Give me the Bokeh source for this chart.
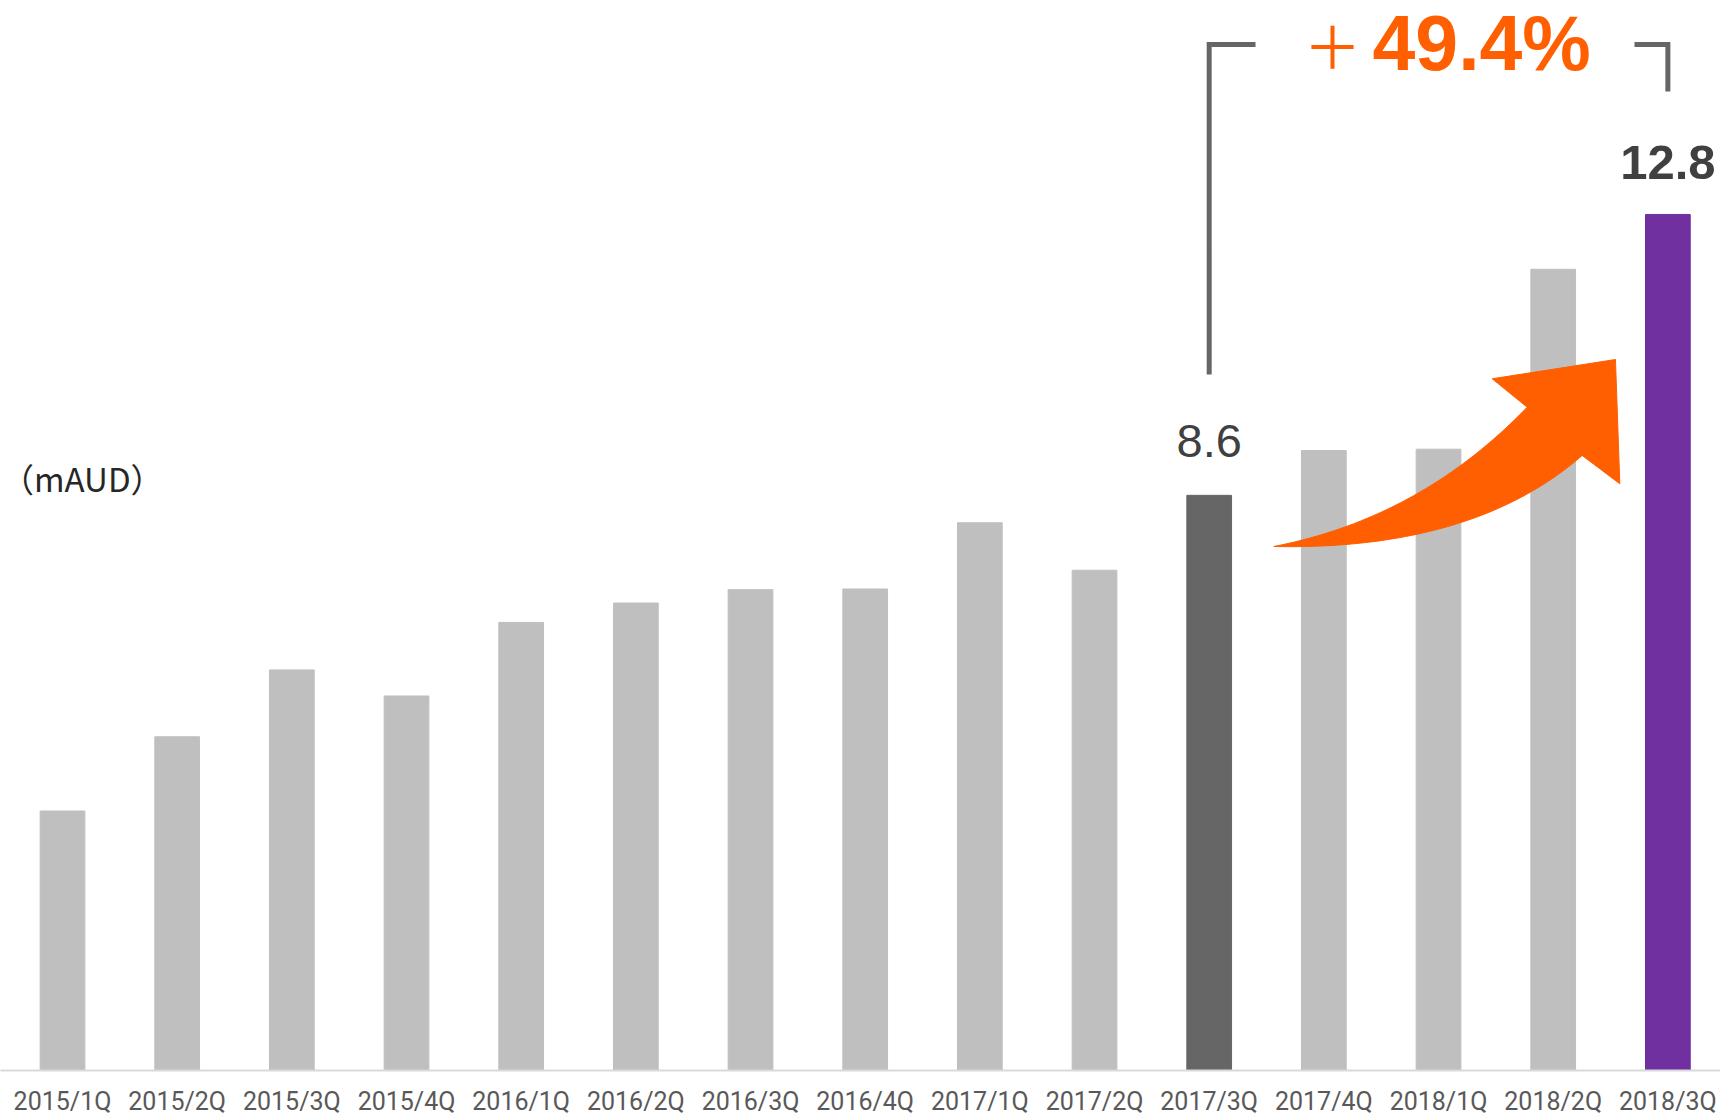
import numpy as np
from bokeh.plotting import figure
from bokeh.models import Range1d, FixedTicker, ColumnDataSource
from bokeh.core.properties import value
from bokeh.embed import file_html
from bokeh.resources import INLINE

# ---- data ----
quarters = ["2015/1Q", "2015/2Q", "2015/3Q", "2015/4Q",
            "2016/1Q", "2016/2Q", "2016/3Q", "2016/4Q",
            "2017/1Q", "2017/2Q", "2017/3Q", "2017/4Q",
            "2018/1Q", "2018/2Q", "2018/3Q"]
sales = [3.88, 4.99, 5.99, 5.60,
         6.70, 6.99, 7.19, 7.20,
         8.19, 7.48, 8.6, 9.27,
         9.29, 11.98, 12.8]
base_quarter = "2017/3Q"
latest_quarter = "2018/3Q"
growth_text = "49.4%"
unit_text = "（mAUD）"

# ---- styles ----
GREY = "#BFBFBF"
DARK = "#666666"
PURPLE = "#7030A0"
ORANGE = "#FF5F00"
TEXT_DARK = "#404040"

xs = list(range(len(quarters)))
bi = quarters.index(base_quarter)
li = quarters.index(latest_quarter)
colors = [GREY] * len(quarters)
colors[bi] = DARK
colors[li] = PURPLE

src = ColumnDataSource(dict(x=xs, top=sales, color=colors))

p = figure(frame_width=1720, frame_height=1070,
           x_range=Range1d(-0.5407, 14.459), y_range=Range1d(0, 15.999),
           output_backend="svg", toolbar_location=None,
           y_axis_location=None, min_border=0)
p.background_fill_color = "white"
p.outline_line_color = None
p.xgrid.visible = False
p.ygrid.visible = False

p.vbar(x="x", top="top", width=0.39, color="color", source=src)

ax = p.xaxis[0]
ax.ticker = FixedTicker(ticks=xs)
ax.major_label_overrides = {i: q for i, q in zip(xs, quarters)}
ax.major_tick_line_color = None
ax.minor_tick_line_color = None
ax.axis_line_color = "#D9D9D9"
ax.axis_line_width = 2
ax.major_label_text_font = "Roboto"
ax.major_label_text_font_size = "25px"
ax.major_label_text_color = "#595959"
ax.major_label_standoff = 10

# value labels
p.text(x=[bi], y=[sales[bi] + 0.81], text=[f"{sales[bi]:.1f}"],
       text_align="center", text_baseline="middle",
       text_font=value("Liberation Sans"), text_font_size="47px",
       text_color=TEXT_DARK)
p.text(x=[li], y=[sales[li] + 0.78], text=[f"{sales[li]:.1f}"],
       text_align="center", text_baseline="middle",
       text_font=value("Liberation Sans"), text_font_style="bold",
       text_font_size="49px", text_color=TEXT_DARK)

# unit label
p.text(x=[-0.536], y=[8.86], text=[unit_text],
       text_align="left", text_baseline="middle",
       text_font=value("Noto Sans CJK JP"), text_font_size="33px",
       text_color="#262626")

# bracket
bracket_top = 15.341
p.line(x=[bi, bi, 10.404], y=[10.407, bracket_top, bracket_top],
       line_width=5, line_color=DARK, line_join="miter")
p.line(x=[13.709, li, li], y=[bracket_top, bracket_top, 14.638],
       line_width=5, line_color=DARK, line_join="miter")

# growth text
p.text(x=[11.075], y=[15.35], text=["＋"],
       text_align="center", text_baseline="middle",
       text_font=value("Noto Sans CJK JP"), text_font_size="58px",
       text_color=ORANGE)
p.text(x=[11.424], y=[15.371], text=[growth_text],
       text_align="left", text_baseline="middle",
       text_font=value("Liberation Sans"), text_font_style="bold",
       text_font_size="77px", text_color=ORANGE)

# curved arrow
def qbez(p0, c, p2, n=40):
    t = np.linspace(0, 1, n)[:, None]
    p0, c, p2 = map(np.array, (p0, c, p2))
    return (1 - t) ** 2 * p0 + 2 * t * (1 - t) * c + t ** 2 * p2

tail = (10.563, 7.835)
lower_ctrl = (12.300, 7.775)
lower_inner = (13.253, 9.196)
lower_outer = (13.581, 8.772)
tip = (13.543, 10.631)
upper_outer = (12.468, 10.343)
upper_inner = (12.773, 9.918)
upper_ctrl = (11.843, 8.261)

lower = qbez(tail, lower_ctrl, lower_inner)
upper = qbez(tail, upper_ctrl, upper_inner)[::-1]
head = np.array([lower_outer, tip, upper_outer])
poly = np.vstack([lower, head, upper])
p.patch(x=poly[:, 0], y=poly[:, 1], fill_color=ORANGE, line_color=ORANGE, line_width=1)

open("out.html", "w").write(file_html(p, INLINE))
